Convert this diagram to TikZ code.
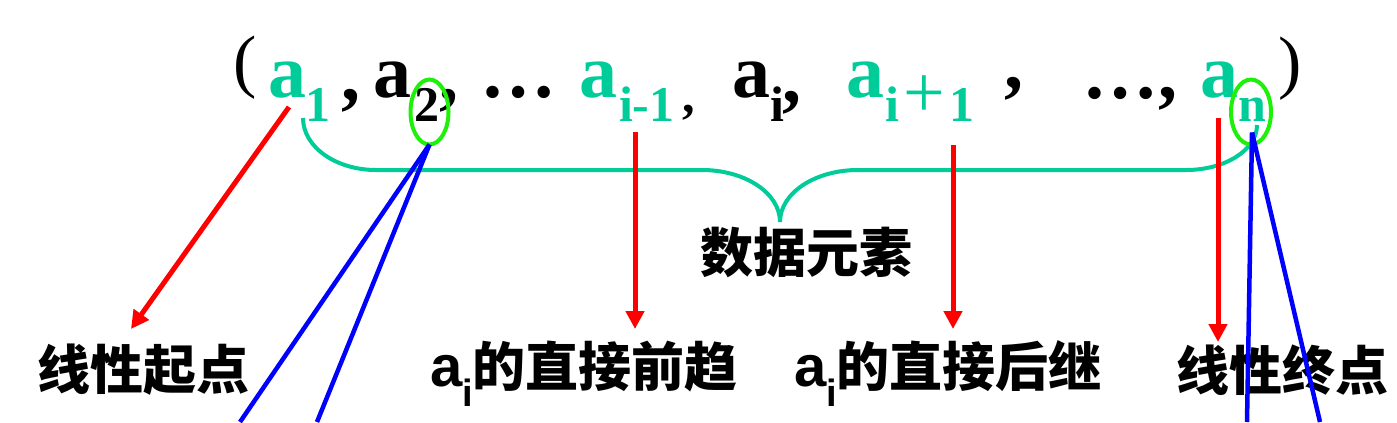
\documentclass[tikz,border=0pt]{standalone}
\usepackage{fontspec}
\usetikzlibrary{arrows.meta,shapes.geometric,calc}
\newfontfamily\serifb{Liberation Serif}
\newfontfamily\sansb{Liberation Sans}
\newfontfamily\cjk{Noto Sans CJK SC}
\definecolor{teal1}{RGB}{0,204,153}
\definecolor{lime1}{RGB}{30,240,10}
\definecolor{red1}{RGB}{255,0,0}
\definecolor{blue1}{RGB}{0,0,255}
\newcommand{\aisub}{{\sansb\fontsize{58bp}{60bp}\selectfont a\raisebox{-20bp}{\fontsize{38bp}{40bp}\selectfont i}}}
\tikzset{
 seq/.style={inner sep=0, outer sep=0, anchor=base west, font=\serifb\bfseries\fontsize{76bp}{80bp}\selectfont},
 sub/.style={inner sep=0, outer sep=0, anchor=base west, font=\serifb\bfseries\fontsize{50bp}{54bp}\selectfont},
 paren/.style={inner sep=0, outer sep=0, font=\serifb\fontsize{70bp}{72bp}\selectfont},
 lbl/.style={inner sep=0, outer sep=0, font=\cjk\bfseries\fontsize{53bp}{56bp}\selectfont},
 redarrow/.style={draw=red1, line width=5bp, -{Triangle[width=18bp,length=18bp]}},
 blueline/.style={draw=blue1, line width=4.5bp},
 ring/.style={ellipse, draw=lime1, line width=4bp, inner sep=0, outer sep=0},
 bracepath/.style={draw=teal1, line width=4bp},
}
\begin{document}
\begin{tikzpicture}[x=1bp,y=-1bp]
\useasboundingbox (0,0) rectangle (1397,422);
\clip (0,0) rectangle (1397,422);
% brace
\draw[bracepath] (303,118) .. controls (303,147) and (336,170) .. (376,170) -- (702,170)
  .. controls (745,170) and (780,193) .. (780,222)
  .. controls (780,193) and (815,170) .. (858,170) -- (1186,170)
  .. controls (1225,170) and (1257,150) .. (1257,125);
% sequence
\node[paren] (lp) at (245,67.5) {(};
\node[seq, text=teal1] (a1) at (268,97) {a};
\node[sub, text=teal1] (s1) at (305.5,121) {1};
\node[seq] (c1) at (341,100) {,};
\node[seq] (a2) at (373,97) {a};
\node[sub] (s2) at (414,121) {2};
\node[seq] (c2) at (439,100) {,};
\node[seq] (d1) at (480,97) {…};
\node[seq, text=teal1] (a3) at (579,97) {a};
\node[sub, text=teal1] (s3) at (619,121) {i-1};
\node[sub] (c3) at (682,112) {,};
\node[seq] (a4) at (732,97) {a};
\node[sub] (s4) at (770,121) {i};
\node[seq] (c4) at (782,102) {,};
\node[seq, text=teal1] (a5) at (846,97) {a};
\node[sub, text=teal1] (s5a) at (885,121) {i};
\node[paren, text=teal1, font=\serifb\fontsize{74bp}{76bp}\selectfont] (s5b) at (924,96.5) {+};
\node[sub, text=teal1] (s5c) at (949.5,121) {1};
\node[seq] (c5) at (1004,88) {,};
\node[seq] (d2) at (1082,98) {…,};
\node[seq, text=teal1] (a6) at (1200,97) {a};
\node[sub, text=teal1] (s6) at (1238,121) {n};
\node[paren] (rp) at (1290,68.5) {)};
% rings
\node[ring, minimum width=38bp, minimum height=65bp] (e2) at (429.5,112) {};
\node[ring, minimum width=40bp, minimum height=65bp] (en) at (1251,112) {};
% labels
\node[lbl] (l1) at (143.5,370) {线性起点};
\node[lbl, anchor=base west] (l2) at (430,386) {\aisub 的直接前趋};
\node[lbl, anchor=base west] (l3) at (794,386) {\aisub 的直接后继};
\node[lbl] (l4) at (1282.5,370) {线性终点};
\node[lbl] (l5) at (806,252) {数据元素};
% blue lines
\coordinate (bl1) at (240,422);
\coordinate (bl2) at (317,422);
\coordinate (bn) at ($(en.south)+(1,-12)$);
\coordinate (br1) at (1247,422);
\coordinate (br2) at (1320,422);
\draw[blueline] (e2.south) -- (bl1);
\draw[blueline] (e2.south) -- (bl2);
\draw[blueline] (bn) -- (br1);
\draw[blueline] (bn) -- (br2);
% red arrows
\coordinate (r1s) at (289,107);
\coordinate (r1e) at (131,329);
\coordinate (r2s) at (635,132);
\coordinate (r2e) at (635,329);
\coordinate (r3s) at (953,145);
\coordinate (r3e) at (953,329);
\coordinate (r4s) at (1218,118);
\coordinate (r4e) at (1218,342);
\draw[redarrow] (r1s) -- (r1e);
\draw[redarrow] (r2s) -- (r2e);
\draw[redarrow] (r3s) -- (r3e);
\draw[redarrow] (r4s) -- (r4e);
\end{tikzpicture}
\end{document}
